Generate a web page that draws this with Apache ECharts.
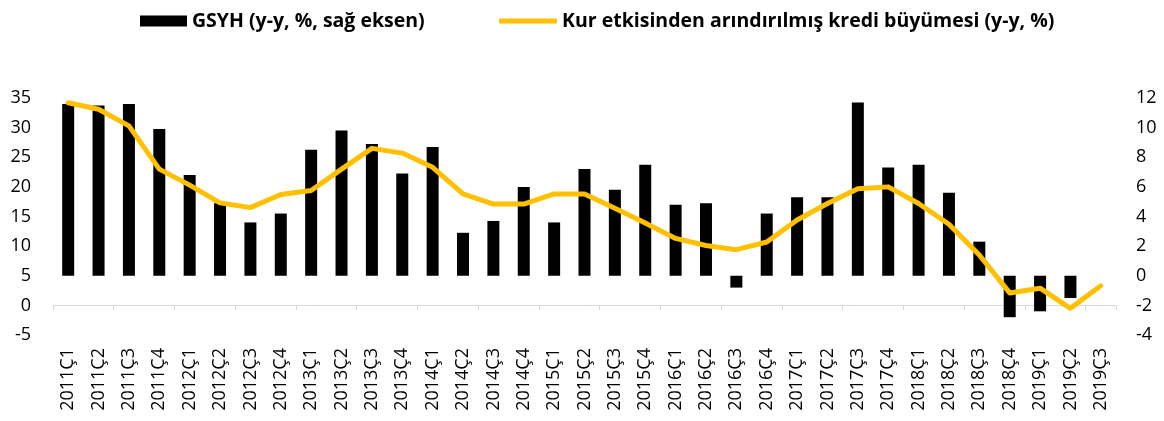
<!DOCTYPE html>
<html>
<head>
<meta charset="utf-8">
<script src="https://cdn.jsdelivr.net/npm/echarts@6/dist/echarts.min.js"></script>
<style>
  html, body { margin: 0; padding: 0; background: #fff; }
  #chart { width: 1164px; height: 421px; }
</style>
</head>
<body>
<div id="chart"></div>
<script>
const quarters = [
  '2011Ç1', '2011Ç2', '2011Ç3', '2011Ç4', '2012Ç1', '2012Ç2', '2012Ç3', '2012Ç4',
  '2013Ç1', '2013Ç2', '2013Ç3', '2013Ç4', '2014Ç1', '2014Ç2', '2014Ç3', '2014Ç4',
  '2015Ç1', '2015Ç2', '2015Ç3', '2015Ç4', '2016Ç1', '2016Ç2', '2016Ç3', '2016Ç4',
  '2017Ç1', '2017Ç2', '2017Ç3', '2017Ç4', '2018Ç1', '2018Ç2', '2018Ç3', '2018Ç4',
  '2019Ç1', '2019Ç2', '2019Ç3'
];

// GSYH, right axis
const gdpGrowth = [
  11.6, 11.5, 11.6, 9.9, 6.8, 4.9, 3.6, 4.2,
  8.5, 9.8, 8.9, 6.9, 8.7, 2.9, 3.7, 6.0,
  3.6, 7.2, 5.8, 7.5, 4.8, 4.9, -0.8, 4.2,
  5.3, 5.3, 11.7, 7.3, 7.5, 5.6, 2.3, -2.8,
  -2.4, -1.5, null
];

// FX-adjusted credit growth, left axis
const creditGrowth = [
  34.2, 33.1, 30.3, 23.0, 20.3, 17.3, 16.5, 18.7,
  19.4, 23.0, 26.5, 25.7, 23.3, 18.8, 17.1, 17.1,
  18.8, 18.8, 16.4, 13.9, 11.3, 10.1, 9.4, 10.7,
  14.4, 17.2, 19.7, 20.0, 17.2, 13.7, 8.5, 2.1,
  2.9, -0.5, 3.3
];

const gdpName = 'GSYH (y-y, %, sağ eksen)';
const creditName = 'Kur etkisinden arındırılmış kredi büyümesi (y-y, %)';

const FONT = '"Open Sans", "Liberation Sans", sans-serif';
const LABEL_COLOR = '#000';
const AXIS_GRAY = '#d9d9d9';

const chart = echarts.init(document.getElementById('chart'), null, { renderer: 'canvas' });

chart.setOption({
  animation: false,
  textStyle: { fontFamily: FONT },
  legend: [
    {
      data: [gdpName],
      left: 135,
      top: 6,
      icon: 'rect',
      itemWidth: 47,
      itemHeight: 11,
      textStyle: { fontFamily: FONT, fontWeight: 'bold', fontSize: 19.5, color: '#000' }
    },
    {
      data: [creditName],
      left: 494,
      top: 6,
      icon: 'roundRect',
      itemWidth: 58,
      itemHeight: 5,
      textStyle: { fontFamily: FONT, fontWeight: 'bold', fontSize: 19.5, color: '#000' }
    }
  ],
  grid: { left: 53, right: 48, top: 98, bottom: 86, containLabel: false },
  xAxis: [
    {
      type: 'category',
      data: quarters,
      position: 'bottom',
      axisLine: { show: false, onZero: false },
      axisTick: { show: false },
      axisLabel: {
        rotate: 90,
        margin: 13,
        interval: 0,
        fontFamily: FONT,
        fontSize: 18,
        color: LABEL_COLOR
      }
    },
    {
      type: 'category',
      data: quarters,
      position: 'bottom',
      axisLine: { show: true, onZero: true, onZeroAxisIndex: 0, lineStyle: { color: AXIS_GRAY, width: 1 } },
      axisTick: { show: true, length: 5, lineStyle: { color: AXIS_GRAY } },
      axisLabel: { show: false }
    }
  ],
  yAxis: [
    {
      type: 'value',
      position: 'left',
      min: -5,
      max: 35,
      interval: 5,
      splitLine: { show: false },
      axisLine: { show: false },
      axisTick: { show: false },
      axisLabel: { margin: 22, fontFamily: FONT, fontSize: 18, color: LABEL_COLOR }
    },
    {
      type: 'value',
      position: 'right',
      min: -4,
      max: 12,
      interval: 2,
      splitLine: { show: false },
      axisLine: { show: false },
      axisTick: { show: false },
      axisLabel: { margin: 20, fontFamily: FONT, fontSize: 18, color: LABEL_COLOR }
    }
  ],
  series: [
    {
      name: gdpName,
      type: 'bar',
      xAxisIndex: 0,
      yAxisIndex: 1,
      barWidth: 12,
      itemStyle: { color: '#000' },
      data: gdpGrowth
    },
    {
      name: creditName,
      type: 'line',
      xAxisIndex: 0,
      yAxisIndex: 0,
      showSymbol: false,
      symbol: 'none',
      lineStyle: { color: '#FFC000', width: 5, cap: 'round', join: 'round' },
      itemStyle: { color: '#FFC000' },
      data: creditGrowth
    }
  ]
});
</script>
</body>
</html>
